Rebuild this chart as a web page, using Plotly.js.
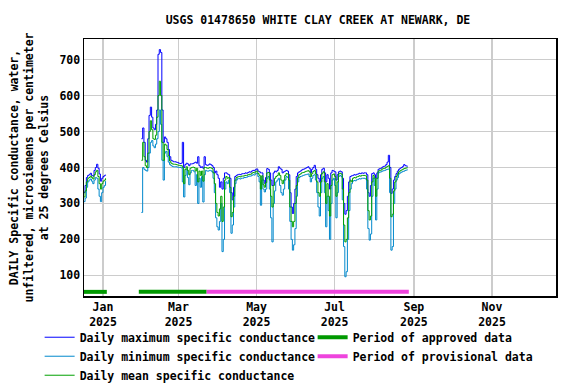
<!doctype html>
<html lang="en">
    <head>
        <meta charset="UTF-8" />
        <title>USGS 01478650 White Clay Creek at Newark, DE</title>
        <script src="https://cdn.plot.ly/plotly-3.0.1.min.js"></script>
        <style>
            body {
                margin: 0;
                background: white;
            }
            #chart {
                width: 576px;
                height: 384px;
            }
        </style>
    </head>
    <body>
        <div id="chart"></div>
        <script>
            // Segment 1: daily values starting 2024-12-17
            const seg1Start = "2024-12-17";
            const seg1Max = [330, 350, 372, 378, 380, 384, 378, 376, 392, 400, 409, 398, 382, 362, 370, 375, 378, 380];
            const seg1Min = [305, 315, 345, 360, 365, 368, 362, 355, 365, 372, 370, 340, 320, 305, 330, 345, 350, 362];
            const seg1Mean = [318, 335, 360, 370, 372, 376, 372, 368, 380, 388, 392, 375, 355, 340, 355, 362, 365, 370];

            // Segment 2: daily values starting 2025-01-31 (through 2025-08-27)
            const seg2Start = "2025-01-31";
            const seg2Max = [
                480, 510, 470, 420, 415, 480, 545, 568, 540, 510, // Jan 31 - Feb 9
                505, 520, 560, 715, 728, 720, 560, 470, 485, 480, // Feb 10 - 19
                470, 450, 430, 420, 418, 416, 416, 415, 414,      // Feb 20 - 28
                412, 411, 412, 470, 400, 408, 412, 410, 405, 410, // Mar 1 - 10
                410, 411, 413, 415, 412, 430, 405, 400, 402, 398, // Mar 11 - 20
                430, 408, 406, 407, 410, 408, 405, 400, 385, 390, // Mar 21 - 30
                380, 370, 345, 360, 340, 370, 385, 385, 382, 380, // Mar 31 - Apr 9
                370, 330, 310, 345, 375, 378, 380, 381, 380, 382, // Apr 10 - 19
                383, 383, 385, 384, 386, 388, 387, 390, 392, 391, // Apr 20 - 29
                395, 396, 390, 388, 385, 385, 365, 356, 372, 397, // Apr 30 - May 9
                395, 385, 365, 350, 385, 390, 388, 392, 402, 398, // May 10 - 19
                395, 385, 388, 390, 392, 390, 380, 330, 290, 272, // May 20 - 29
                300, 340, 375, 385, 388, 390, 393, 395, 396, 398, // May 30 - Jun 8
                400, 402, 398, 385, 395, 400, 406, 395, 380, 370, // Jun 9 - 18
                360, 380, 395, 398, 385, 360, 380, 370, 340, 385, // Jun 19 - 28
                392, 390, 388, 365, 380, 388, 390, 388, 370, 300, // Jun 29 - Jul 8
                270, 280, 320, 360, 375, 377, 378, 380, 379, 381, // Jul 9 - 18
                382, 384, 383, 385, 384, 385, 385, 380, 330, 320, // Jul 19 - 28
                350, 383, 385, 380, 370, 385, 395, 397, 398, 401, // Jul 29 - Aug 7
                403, 404, 408, 415, 434, 400, 328, 340, 365, 375, // Aug 8 - 17
                383, 390, 395, 398, 400, 403, 408, 405, 404, 403, // Aug 18 - 27
            ];
            const seg2Min = [
                275, 400, 395, 392, 390, 400, 440, 470, 475, 460,
                455, 465, 480, 500, 560, 520, 420, 365, 440, 445,
                430, 415, 408, 405, 403, 402, 402, 402, 401,
                400, 400, 399, 360, 318, 378, 395, 372, 352, 385,
                392, 392, 388, 350, 380, 300, 370, 345, 375, 304,
                380, 392, 390, 390, 392, 391, 388, 370, 330, 260,
                235, 226, 250, 300, 166, 200, 340, 360, 355, 365,
                330, 217, 240, 290, 355, 365, 369, 369, 368, 370,
                370, 372, 372, 373, 375, 376, 376, 378, 380, 379,
                383, 384, 375, 360, 295, 365, 340, 332, 340, 370,
                375, 340, 260, 193, 300, 335, 360, 365, 370, 350,
                330, 323, 340, 365, 375, 372, 340, 250, 200, 170,
                185, 230, 320, 360, 372, 375, 376, 378, 379, 380,
                381, 382, 375, 360, 370, 378, 380, 365, 330, 290,
                265, 330, 370, 375, 330, 235, 320, 280, 200, 300,
                365, 370, 350, 260, 330, 375, 378, 375, 310, 180,
                96, 110, 200, 280, 340, 355, 362, 364, 363, 366,
                367, 369, 368, 370, 370, 370, 368, 340, 230, 198,
                215, 320, 370, 350, 254, 340, 385, 387, 388, 390,
                391, 392, 394, 395, 396, 330, 170, 180, 300, 340,
                365, 372, 382, 385, 387, 389, 390, 392, 393, 394,
            ];
            const seg2Mean = [
                420, 470, 430, 405, 400, 440, 500, 530, 505, 480,
                478, 490, 540, 600, 640, 600, 470, 420, 465, 462,
                450, 432, 418, 412, 410, 409, 409, 408, 407,
                406, 405, 405, 400, 355, 395, 402, 392, 380, 398,
                400, 401, 400, 390, 398, 360, 390, 378, 390, 362,
                400, 400, 398, 398, 400, 399, 397, 385, 355, 300,
                275, 265, 285, 320, 250, 290, 365, 375, 370, 372,
                345, 263, 275, 320, 365, 372, 374, 375, 374, 376,
                376, 377, 378, 378, 380, 381, 381, 384, 386, 385,
                389, 390, 383, 378, 340, 377, 352, 345, 358, 385,
                386, 365, 320, 290, 350, 370, 375, 378, 385, 378,
                365, 355, 365, 378, 383, 382, 365, 290, 250, 235,
                250, 300, 350, 372, 380, 382, 385, 386, 387, 389,
                390, 391, 388, 375, 383, 389, 392, 382, 360, 330,
                320, 360, 384, 388, 360, 300, 355, 320, 265, 350,
                380, 382, 375, 320, 360, 382, 384, 382, 340, 240,
                193, 200, 260, 330, 365, 360, 370, 372, 371, 374,
                375, 377, 376, 378, 378, 378, 377, 365, 280, 254,
                265, 360, 378, 370, 320, 370, 390, 392, 393, 396,
                397, 398, 401, 403, 405, 370, 263, 270, 335, 360,
                375, 382, 388, 391, 393, 395, 397, 398, 399, 400,
            ];

            // Approval periods (start, end)
            const approvedStarts = ["2024-12-16", "2025-01-29"];
            const approvedEnds = ["2025-01-04", "2025-03-23"];
            const provisionalStarts = ["2025-03-23"];
            const provisionalEnds = ["2025-08-28"];

            // Axis ticks
            const xTickVals = ["2025-01-01", "2025-03-01", "2025-05-01", "2025-07-01", "2025-09-01", "2025-11-01"];
            const xTickText = ["Jan<br>2025", "Mar<br>2025", "May<br>2025", "Jul<br>2025", "Sep<br>2025", "Nov<br>2025"];
            const yTickVals = [100, 200, 300, 400, 500, 600, 700];

            const barLevel = 54; // where the period bars sit on the y axis

            function dailyDates(start, n) {
                const out = [];
                const d = new Date(start + "T00:00:00Z");
                for (let i = 0; i < n; i++) {
                    out.push(d.toISOString().slice(0, 10));
                    d.setUTCDate(d.getUTCDate() + 1);
                }
                return out;
            }

            const x1 = dailyDates(seg1Start, seg1Max.length);
            const x2 = dailyDates(seg2Start, seg2Max.length);
            const xAll = x1.concat(["2025-01-04"], x2);
            const join = (a, b) => a.concat([null], b);

            function periodLine(starts, ends) {
                const x = [];
                const y = [];
                starts.forEach((s, i) => {
                    if (i > 0) {
                        x.push(s);
                        y.push(null);
                    }
                    x.push(s, ends[i]);
                    y.push(barLevel, barLevel);
                });
                return { x, y };
            }

            const font = { family: "DejaVu Sans Mono", size: 11.5, color: "#000", weight: "bold" };

            const approved = periodLine(approvedStarts, approvedEnds);
            const provisional = periodLine(provisionalStarts, provisionalEnds);

            const traces = [
                {
                    x: xAll, y: join(seg1Max, seg2Max),
                    type: "scatter", mode: "lines",
                    name: "Daily maximum specific conductance",
                    line: { color: "#0000FF", width: 1, shape: "hv" },
                    legendrank: 1,
                },
                {
                    x: xAll, y: join(seg1Min, seg2Min),
                    type: "scatter", mode: "lines",
                    name: "Daily minimum specific conductance",
                    line: { color: "#0088CC", width: 1, shape: "hv" },
                    legendrank: 3,
                },
                {
                    x: xAll, y: join(seg1Mean, seg2Mean),
                    type: "scatter", mode: "lines",
                    name: "Daily mean specific conductance",
                    line: { color: "#00A000", width: 1, shape: "hv" },
                    legendrank: 5,
                },
                {
                    x: approved.x, y: approved.y,
                    type: "scatter", mode: "lines",
                    name: "Period of approved data",
                    line: { color: "#009900", width: 4 },
                    legendrank: 2,
                },
                {
                    x: provisional.x, y: provisional.y,
                    type: "scatter", mode: "lines",
                    name: "Period of provisional data",
                    line: { color: "#EE44DD", width: 4 },
                    legendrank: 4,
                },
            ];

            const layout = {
                width: 576,
                height: 384,
                margin: { l: 84, r: 20, t: 39, b: 88, autoexpand: false },
                paper_bgcolor: "white",
                plot_bgcolor: "white",
                font: font,
                showlegend: true,
                title: {
                    text: "USGS 01478650 WHITE CLAY CREEK AT NEWARK, DE",
                    font: font,
                    x: 0.552, xanchor: "center",
                    y: 0.947, yanchor: "middle",
                },
                xaxis: {
                    type: "date",
                    range: ["2024-12-17 04:00", "2025-12-21 01:00"],
                    tickvals: xTickVals,
                    ticktext: xTickText,
                    tickfont: font,
                    ticks: "",
                    showgrid: true,
                    gridcolor: "#CCCCCC",
                    gridwidth: 1.5,
                    showline: true,
                    linecolor: "#000",
                    linewidth: 1.5,
                    mirror: true,
                    zeroline: false,
                },
                yaxis: {
                    range: [42.5, 757.5],
                    tickvals: yTickVals,
                    tickfont: font,
                    ticks: "",
                    showgrid: true,
                    gridcolor: "#CCCCCC",
                    gridwidth: 1.5,
                    showline: true,
                    linecolor: "#000",
                    linewidth: 1.5,
                    mirror: true,
                    zeroline: false,
                    title: {
                        text: "DAILY Specific conductance, water,<br>unfiltered, microsiemens per centimeter<br>at 25 degrees Celsius",
                        font: font,
                        standoff: 8,
                    },
                },
                legend: {
                    orientation: "h",
                    x: -0.094, xanchor: "left",
                    y: -0.104, yanchor: "top",
                    entrywidth: 228,
                    entrywidthmode: "pixels",
                    bgcolor: "rgba(0,0,0,0)",
                    font: font,
                    tracegroupgap: 0,
                    traceorder: "normal",
                },
            };

            Plotly.newPlot("chart", traces, layout, { displayModeBar: false, staticPlot: true });
        </script>
    </body>
</html>
